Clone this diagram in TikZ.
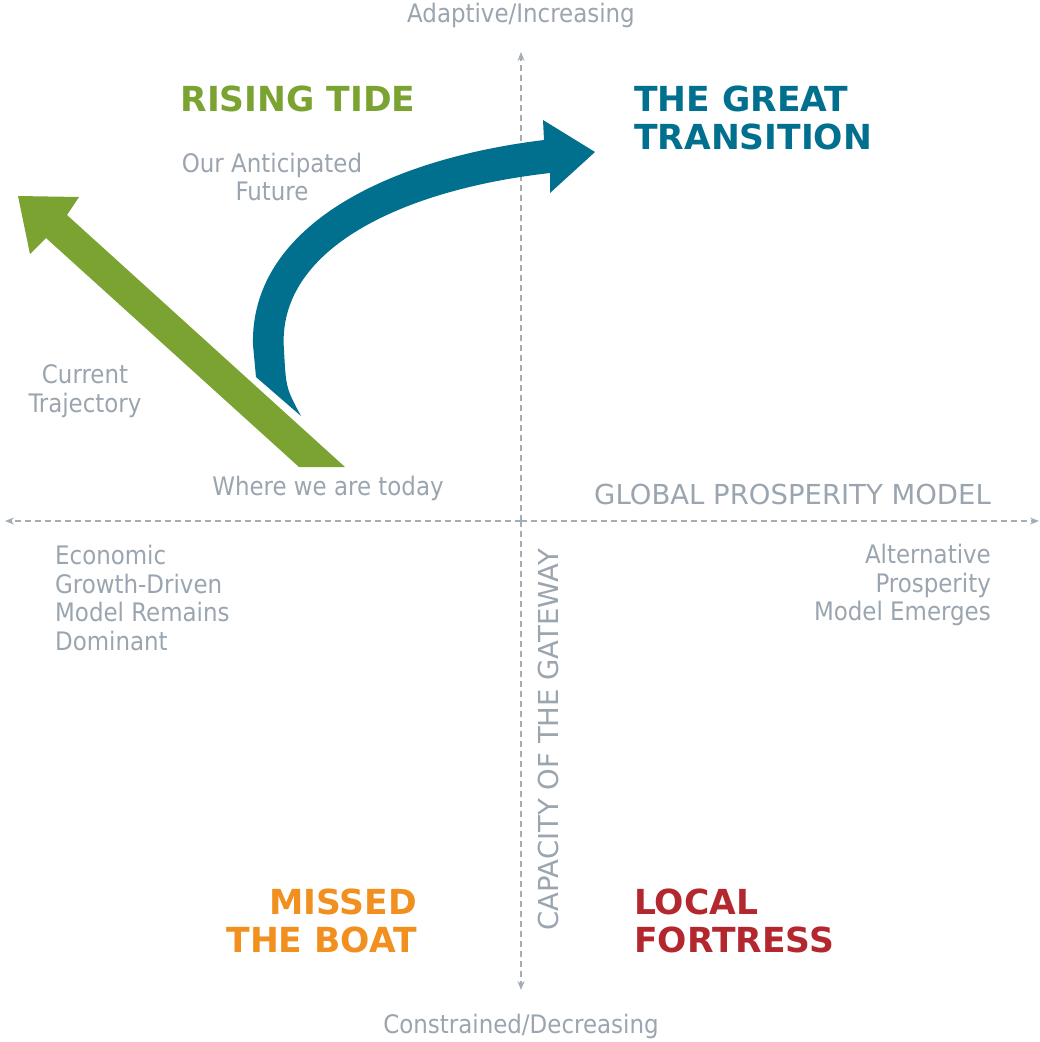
\documentclass[tikz,border=0pt]{standalone}
\usepackage{fontspec}
\setmainfont{DejaVu Sans Condensed}
\newfontfamily\capsfont{DejaVu Sans}
\usetikzlibrary{arrows.meta}
\definecolor{note}{HTML}{9AA5AF}
\definecolor{axis}{HTML}{A3ADB6}
\definecolor{tide}{HTML}{7AA331}
\definecolor{great}{HTML}{00708E}
\definecolor{boat}{HTML}{F18F1F}
\definecolor{fortress}{HTML}{B3282E}
\tikzset{note/.style={text=note,font=\fontsize{25.5}{28.5}\selectfont,inner sep=0pt}}
\tikzset{capsnote/.style={note,font=\capsfont\fontsize{27.5}{28.5}\selectfont}}
\tikzset{title/.style={font=\capsfont\fontsize{34.5}{38}\selectfont\bfseries,inner sep=0pt}}
\tikzset{axisline/.style={draw=axis,line width=1.2pt,dash pattern=on 6pt off 4pt,-{Stealth[length=9pt,width=7pt]}}}

\begin{document}
\begin{tikzpicture}[x=1pt,y=-1pt]
    \useasboundingbox (0,0) rectangle (1040,1042);

    % axes
    \coordinate (o) at (521,521);
    \coordinate (up) at (521,52);
    \coordinate (down) at (521,990);
    \coordinate (west) at (5,521);
    \coordinate (east) at (1039,521);
    \draw[axisline] (o) -- (up);
    \draw[axisline] (o) -- (down);
    \draw[axisline] (o) -- (west);
    \draw[axisline] (o) -- (east);

    % current trajectory
    \fill[tide] (299,467) -- (46,238) -- (30,254) -- (18,196) -- (79,197)
        -- (67,215) -- (345,467) -- cycle;

    % anticipated future
    \fill[great] (256,377) -- (253,345) .. controls (250,230) and (380,160) .. (544,140)
        -- (543,120) -- (595,152) -- (550,193) -- (550,173)
        .. controls (400,190) and (276,250) .. (284,350)
        .. controls (286,388) .. (301,416) -- cycle;

    \node[note] (adaptive) at (521,15) {Adaptive/Increasing};
    \node[note] (constrained) at (521,1026) {Constrained/Decreasing};
    \node[capsnote,rotate=90] (capacity) at (548,740) {CAPACITY OF THE GATEWAY};
    \node[capsnote,anchor=east] (global) at (991,494) {GLOBAL PROSPERITY MODEL};

    \node[title,text=tide] (rising) at (298,99) {RISING TIDE};
    \node[title,text=great,anchor=west,align=left] (transition) at (634,118)
    {THE GREAT\\TRANSITION};
    \node[title,text=boat,anchor=east,align=right] (missed) at (417,921)
    {MISSED\\THE BOAT};
    \node[title,text=fortress,anchor=west,align=left] (local) at (634,921)
    {LOCAL\\FORTRESS};

    \node[note,align=center] (future) at (272,177) {Our Anticipated\\Future};
    \node[note,align=center] (current) at (85,391) {Current\\Trajectory};
    \node[note] (today) at (328,488) {Where we are today};
    \node[note,anchor=west,align=left] (economic) at (55,598)
    {Economic\\Growth-Driven\\Model Remains\\Dominant};
    \node[note,anchor=east,align=right] (alternative) at (991,585)
    {Alternative\\Prosperity\\Model Emerges};
\end{tikzpicture}
\end{document}
